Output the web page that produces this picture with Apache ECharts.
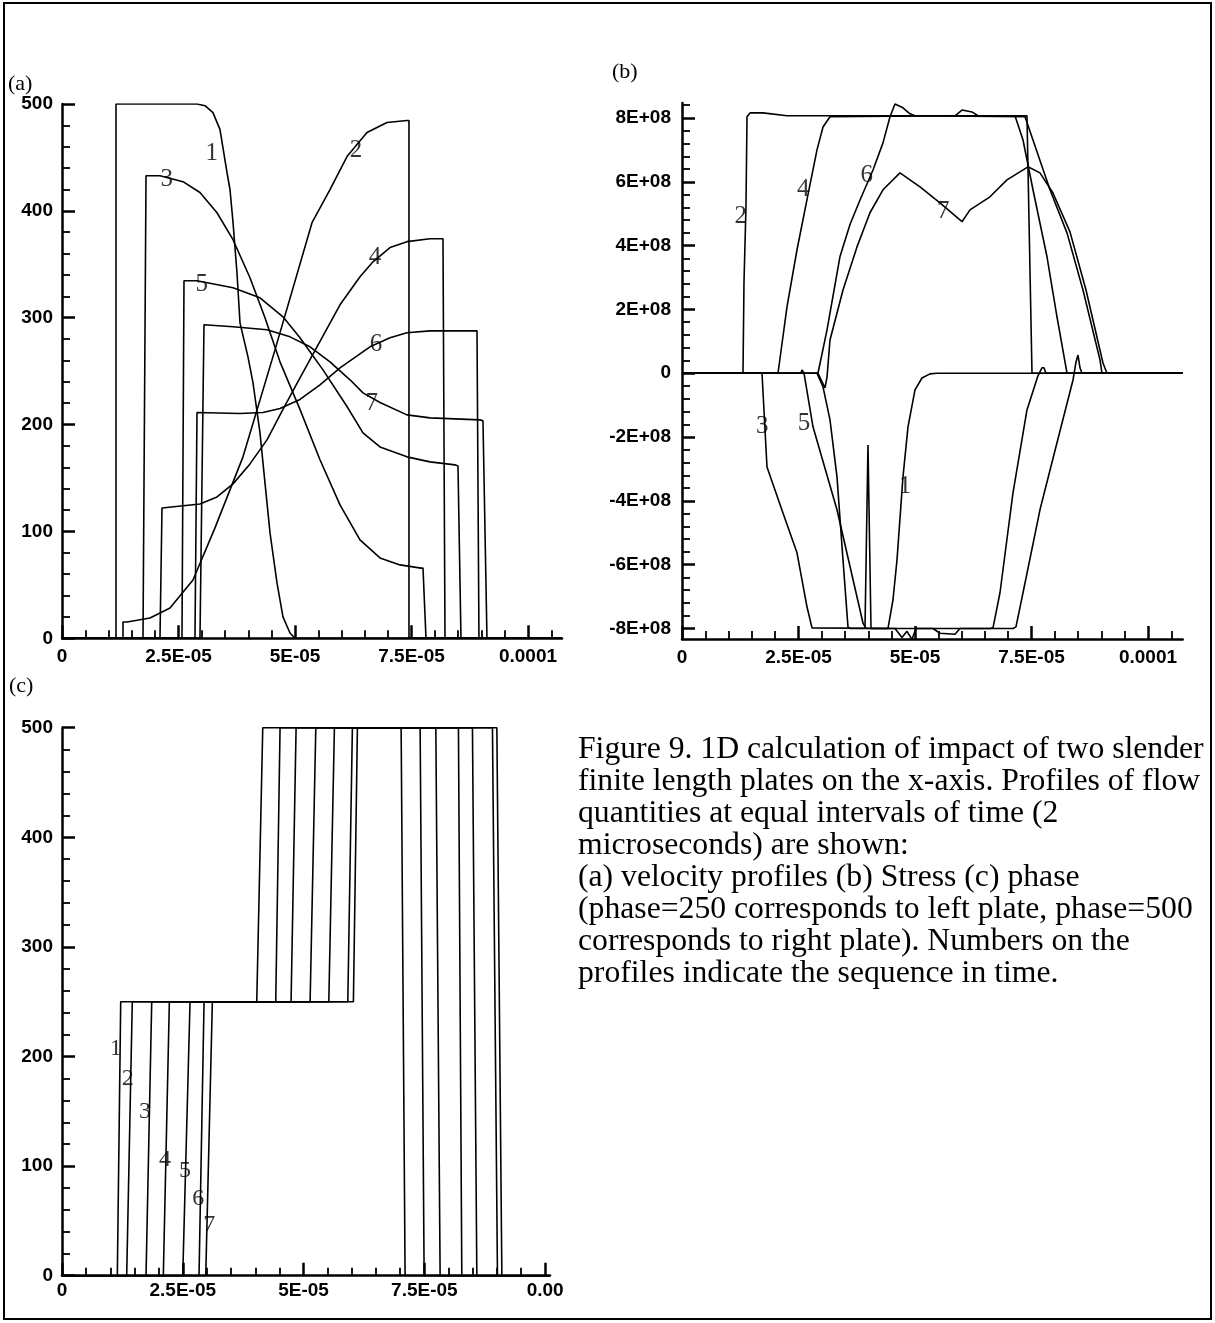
<!DOCTYPE html>
<html><head><meta charset="utf-8">
<script src="https://cdn.jsdelivr.net/npm/echarts@6/dist/echarts.min.js"></script>
<style>html,body{margin:0;padding:0;background:#fff;}#chart{width:1215px;height:1323px;}</style>
</head><body><div id="chart"></div>
<script>
// ---- axis ticks (x in units of 1e-5, stress in units of 1e8) ----
const X_TICKS = [0, 2.5, 5, 7.5, 10];
const X_TICK_LABELS_AB = ['0', '2.5E-05', '5E-05', '7.5E-05', '0.0001'];
const X_TICK_LABELS_C = ['0', '2.5E-05', '5E-05', '7.5E-05', '0.00'];
const V_TICKS = [0, 100, 200, 300, 400, 500];
const V_TICK_LABELS = ['0', '100', '200', '300', '400', '500'];
const S_TICKS = [-8, -6, -4, -2, 0, 2, 4, 6, 8];
const S_TICK_LABELS = ['-8E+08', '-6E+08', '-4E+08', '-2E+08', '0', '2E+08', '4E+08', '6E+08', '8E+08'];

// ---- (a) velocity profiles: [x (1e-5), velocity] ----
const velocity1 = [[0,0],[1.159,0],[1.159,500],[2.897,500],[3.069,498.4],[3.240,491.9],[3.391,476.0],[3.541,435.9],[3.605,420.0],[3.670,389.1],[3.755,342.1],[3.820,295.2],[3.991,263.4],[4.099,239.0],[4.249,192.2],[4.356,145.4],[4.464,98.6],[4.614,51.8],[4.742,20.0],[4.893,5.0],[5.000,0],[10.73,0]];
const velocity2 = [[0,0],[1.309,0],[1.309,15.3],[1.395,15.3],[1.888,19.0],[2.318,28.4],[2.811,54.6],[3.283,103.3],[3.884,169.8],[4.571,269.9],[5.365,388.9],[5.751,419.9],[6.116,450.8],[6.545,473.3],[6.974,482.7],[7.403,484.6],[7.446,484.6],[7.446,0],[10.73,0]];
const velocity3 = [[0,0],[1.738,0],[1.803,432.9],[2.103,432.9],[2.597,427.3],[2.961,417.2],[3.326,398.2],[3.670,373.0],[4.034,337.4],[4.356,299.9],[4.678,258.7],[5.107,214.2],[5.536,167.1],[5.966,124.8],[6.395,92.1],[6.824,75.2],[7.253,68.7],[7.704,65.7],[7.747,65.7],[7.811,0],[10.73,0]];
const velocity4 = [[0,0],[2.103,0],[2.146,122.0],[2.961,125.7],[3.326,132.3],[3.670,144.5],[4.034,163.2],[4.399,185.7],[4.742,214.2],[5.107,243.7],[5.472,272.8],[5.966,312.1],[6.395,338.3],[6.674,352.3],[7.039,365.6],[7.403,371.2],[7.897,373.9],[8.176,373.9],[8.219,0],[10.73,0]];
const velocity5 = [[0,0],[2.575,0],[2.618,334.6],[2.897,334.6],[3.670,328.0],[4.249,318.6],[4.742,300.8],[5.107,281.2],[5.601,251.2],[6.116,216.9],[6.459,192.2],[6.824,179.1],[7.403,169.8],[7.897,165.1],[8.433,162.3],[8.498,161.3],[8.562,0],[10.73,0]];
const velocity6 = [[0,0],[2.854,0],[2.897,211.3],[3.820,210.4],[4.313,211.3],[4.678,215.1],[5.107,223.5],[5.536,237.2],[5.966,253.1],[6.609,272.8],[7.039,281.2],[7.403,285.9],[7.897,287.7],[8.906,287.7],[8.948,0],[10.73,0]];
const velocity7 = [[0,0],[2.961,0],[3.047,293.4],[3.670,291.5],[4.399,288.7],[4.893,282.1],[5.322,272.8],[5.751,258.7],[6.180,241.9],[6.459,229.7],[6.824,220.7],[7.403,209.1],[7.897,206.3],[8.970,204.4],[9.034,203.5],[9.120,0],[10.73,0]];
const velocityLabels = [[3.212,454,'1'],[6.309,457,'2'],[2.247,429,'3'],[6.717,356,'4'],[2.998,331,'5'],[6.738,275,'6'],[6.646,220,'7']];

// ---- (b) stress profiles: [x (1e-5), stress (1e8)] ----
const stress1 = [[0,0],[2.897,0],[3.026,-0.43],[3.176,-1.46],[3.326,-3.25],[3.455,-5.85],[3.562,-7.95],[3.605,-8.0],[3.927,-8.0],[3.991,-2.25],[4.056,-8.0],[4.421,-8.0],[4.528,-7.1],[4.614,-5.85],[4.742,-3.25],[4.850,-1.68],[5.0,-0.52],[5.150,-0.15],[5.322,-0.02],[5.472,0],[10.745,0]];
const stress2 = [[0,0],[1.309,0],[1.330,2.83],[1.373,5.22],[1.395,8.04],[1.459,8.16],[1.738,8.16],[2.253,8.07],[7.403,8.07],[7.511,0],[10.745,0]];
const stress3 = [[0,0],[1.717,0],[1.824,-2.94],[2.167,-4.38],[2.468,-5.63],[2.682,-7.32],[2.790,-7.98],[4.571,-8.0],[4.721,-8.28],[4.828,-8.09],[4.936,-8.34],[5.021,-8.0],[6.609,-8.0],[6.674,-7.98],[6.824,-6.88],[7.103,-3.75],[7.403,-1.15],[7.639,-0.08],[7.725,0.17],[7.768,0.17],[7.811,0],[10.745,0]];
const stress4 = [[0,0],[2.060,0],[2.253,2.08],[2.468,3.87],[2.682,5.44],[2.897,7.0],[3.026,7.72],[3.176,8.04],[5.858,8.07],[6.009,8.25],[6.223,8.19],[6.352,8.07],[7.146,8.07],[7.318,7.31],[7.532,5.75],[7.833,3.65],[8.047,1.77],[8.262,0],[10.745,0]];
const stress5 = [[0,0],[2.554,0],[2.575,0.10],[2.618,0],[2.811,-1.68],[3.326,-4.28],[3.884,-7.83],[3.948,-8.0],[5.386,-8.0],[5.536,-8.15],[5.858,-8.18],[5.966,-8.0],[7.103,-8.0],[7.167,-7.95],[7.318,-6.88],[7.682,-4.28],[8.047,-2.18],[8.391,-0.21],[8.455,0.35],[8.498,0.57],[8.541,0.17],[8.584,0],[10.745,0]];
const stress6 = [[0,0],[2.918,0],[3.112,1.36],[3.391,3.66],[3.605,4.66],[3.820,5.43],[4.099,6.37],[4.313,7.22],[4.464,8.04],[4.571,8.44],[4.742,8.32],[4.893,8.13],[5.0,8.07],[7.361,8.04],[7.532,7.31],[7.897,5.75],[8.262,4.40],[8.605,2.61],[8.970,0.42],[9.013,0],[10.745,0]];
const stress7 = [[0,0],[2.918,0],[3.069,-0.46],[3.112,-0.12],[3.176,1.04],[3.455,2.61],[3.755,3.96],[4.034,5.03],[4.313,5.75],[4.678,6.28],[5.107,5.84],[5.536,5.34],[6.009,4.75],[6.180,5.12],[6.609,5.53],[6.974,6.06],[7.425,6.47],[7.682,6.28],[7.961,5.65],[8.326,4.43],[8.670,2.61],[9.034,0.32],[9.120,0],[10.745,0]];
const stressLabels = [[1.26,4.91,'2'],[2.603,5.75,'4'],[3.963,6.21,'6'],[5.607,5.07,'7'],[1.723,-1.67,'3'],[2.618,-1.57,'5'],[4.785,-3.55,'1']];

// ---- (c) phase profiles: [x (1e-5), phase] ----
const phase1 = [[0,0],[1.145,0],[1.215,250],[4.031,250],[4.155,500],[7.019,500],[7.101,0],[10.1,0]];
const phase2 = [[0,0],[1.339,0],[1.455,250],[4.424,250],[4.513,500],[7.412,500],[7.495,0],[10.1,0]];
const phase3 = [[0,0],[1.739,0],[1.857,250],[4.741,250],[4.845,500],[7.737,500],[7.826,0],[10.1,0]];
const phase4 = [[0,0],[2.097,0],[2.222,250],[5.135,250],[5.253,500],[8.205,500],[8.275,0],[10.1,0]];
const phase5 = [[0,0],[2.499,0],[2.650,250],[5.522,250],[5.638,500],[8.495,500],[8.586,0],[10.1,0]];
const phase6 = [[0,0],[2.836,0],[2.940,250],[5.915,250],[6.010,500],[8.909,500],[9.013,0],[10.1,0]];
const phase7 = [[0,0],[2.975,0],[3.112,250],[6.031,250],[6.114,500],[9.000,500],[9.104,0],[10.1,0]];
const phaseLabels = [[1.112,207.5,'1'],[1.360,180,'2'],[1.718,149.6,'3'],[2.133,105.6,'4'],[2.547,95.8,'5'],[2.822,70.6,'6'],[3.050,46.3,'7']];

const CAPTION = [
  'Figure 9. 1D calculation of impact of two slender',
  'finite length plates on the x-axis. Profiles of flow',
  'quantities at equal intervals of time (2',
  'microseconds) are shown:',
  '(a) velocity profiles (b) Stress (c) phase',
  '(phase=250 corresponds to left plate, phase=500',
  'corresponds to right plate). Numbers on the',
  'profiles indicate the sequence in time.'
];

// ---- helpers ----
function minorsOf(majors, step, min, max) {
  const out = [];
  for (let v = Math.ceil(min / step) * step; v <= max + 1e-9; v += step) {
    const r = Math.round(v * 1000) / 1000;
    if (!majors.some(m => Math.abs(m - r) < 1e-6)) out.push(r);
  }
  return out;
}
const SANS = '"Liberation Sans", Arial, sans-serif';
const SERIF = '"Liberation Serif", "Times New Roman", serif';

function axisPair(pos, gridIndex, min, max, majors, labels, minorStep, margin) {
  const common = { type: 'value', gridIndex, position: pos, min, max, splitLine: { show: false },
    minorTick: { show: false }, minorSplitLine: { show: false }, silent: true };
  const main = Object.assign({}, common, {
    axisLine: { show: true, onZero: false, lineStyle: { color: '#000', width: 2.5 } },
    axisTick: { show: true, inside: true, length: 13, customValues: majors, lineStyle: { color: '#000', width: 2.5 } },
    axisLabel: { show: true, customValues: majors, margin, color: '#000', fontFamily: SANS, fontWeight: 'bold', fontSize: 19,
      formatter: v => { const i = majors.findIndex(m => Math.abs(m - v) < 1e-6); return i >= 0 ? labels[i] : ''; } }
  });
  const minor = Object.assign({}, common, {
    axisLine: { show: false, onZero: false },
    axisTick: { show: true, inside: true, length: 8, customValues: minorsOf(majors, minorStep, min, max), lineStyle: { color: '#000', width: 1.8 } },
    axisLabel: { show: false }
  });
  return [main, minor];
}

const xAxes = [
  ...axisPair('bottom', 0, 0, 10.73, X_TICKS, X_TICK_LABELS_AB, 0.5, 9),
  ...axisPair('bottom', 1, 0, 10.745, X_TICKS, X_TICK_LABELS_AB, 0.5, 9),
  ...axisPair('bottom', 2, 0, 10.1, X_TICKS, X_TICK_LABELS_C, 0.5, 6)
];
const yAxes = [
  ...axisPair('left', 0, 0, 500, V_TICKS, V_TICK_LABELS, 20, 9),
  ...axisPair('left', 1, -8.33, 8.47, S_TICKS, S_TICK_LABELS, 0.4, 11),
  ...axisPair('left', 2, 0, 500, V_TICKS, V_TICK_LABELS, 20, 9)
];

const series = [];
function addCurves(list, axisIdx) {
  list.forEach(d => series.push({ type: 'line', data: d, xAxisIndex: axisIdx, yAxisIndex: axisIdx,
    symbol: 'none', lineStyle: { color: '#000', width: 1.6 }, silent: true, z: 3 }));
}
function addLabels(list, axisIdx, size) {
  series.push({ type: 'scatter', data: list, xAxisIndex: axisIdx, yAxisIndex: axisIdx, symbolSize: 0, silent: true, z: 4,
    label: { show: true, position: 'inside', formatter: p => p.data[2], fontFamily: SERIF, fontSize: size, color: '#000' } });
}
addCurves([velocity1, velocity2, velocity3, velocity4, velocity5, velocity6, velocity7], 0);
addLabels(velocityLabels, 0, 25);
addCurves([stress1, stress2, stress3, stress4, stress5, stress6, stress7], 2);
addLabels(stressLabels, 2, 25);
addCurves([phase1, phase2, phase3, phase4, phase5, phase6, phase7], 4);
addLabels(phaseLabels, 4, 24);

const graphics = [
  { type: 'rect', shape: { x: 4, y: 3, width: 1207, height: 1316 }, style: { fill: 'none', stroke: '#000', lineWidth: 2 } },
  { type: 'text', x: 8, y: 84, style: { text: '(a)', font: '22px ' + SERIF, fill: '#000', verticalAlign: 'middle' } },
  { type: 'text', x: 612, y: 72, style: { text: '(b)', font: '22px ' + SERIF, fill: '#000', verticalAlign: 'middle' } },
  { type: 'text', x: 9, y: 686, style: { text: '(c)', font: '22px ' + SERIF, fill: '#000', verticalAlign: 'middle' } }
];
CAPTION.forEach((t, i) => graphics.push({ type: 'text', x: 578, y: 750 + i * 31.9,
  style: { text: t, font: '31.7px ' + SERIF, fill: '#000', verticalAlign: 'middle' } }));

const chart = echarts.init(document.getElementById('chart'), null, { renderer: 'canvas' });
chart.setOption({
  animation: false,
  backgroundColor: '#fff',
  grid: [
    { left: 62, top: 104, width: 500, height: 534.3, outerBoundsMode: 'none' },
    { left: 682, top: 103, width: 500.7, height: 536, outerBoundsMode: 'none' },
    { left: 62, top: 727.7, width: 488, height: 548, outerBoundsMode: 'none' }
  ],
  xAxis: xAxes,
  yAxis: yAxes,
  series,
  graphic: graphics
});
</script></body></html>
